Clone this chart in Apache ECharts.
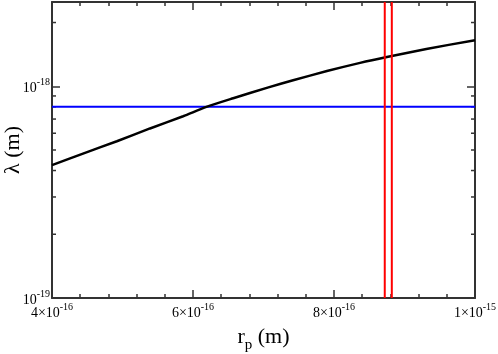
<!DOCTYPE html>
<html>
<head>
<meta charset="utf-8">
<script src="https://cdn.jsdelivr.net/npm/echarts@6/dist/echarts.min.js"></script>
<style>html,body{margin:0;padding:0;background:#fff}#c{width:498px;height:354px}</style>
</head>
<body>
<div id="c"></div>
<script>
// Black curve: lambda (m) vs r_p (m)
const curveR = [4.0e-16, 4.44e-16, 4.92e-16, 5.39e-16, 5.86e-16, 6.19e-16, 6.57e-16, 7.07e-16, 7.42e-16, 7.90e-16, 8.37e-16, 8.75e-16, 9.31e-16, 10.0e-16];
const curveLambda = [4.24e-19, 4.81e-19, 5.50e-19, 6.32e-19, 7.22e-19, 7.99e-19, 8.78e-19, 9.88e-19, 1.067e-18, 1.18e-18, 1.29e-18, 1.375e-18, 1.50e-18, 1.65e-18];
// Blue horizontal line
const blueLambda = 8.0e-19;
// Red vertical lines
const redR = [8.72e-16, 8.82e-16];
// Axis ranges and ticks
const xMin = 4e-16, xMax = 1e-15, xInterval = 2e-16;
const yMin = 1e-19, yMax = 2.5e-18;
const yMinorTicks = [2e-19, 3e-19, 4e-19, 5e-19, 6e-19, 7e-19, 8e-19, 9e-19, 2e-18];

const FONT = 'Liberation Serif';
const AX = '#333';

function xLabel(v) {
  const m = v / 1e-16;
  if (Math.abs(m - 10) < 1e-6) return '{b|1×10}{s|-15}';
  return '{b|' + Math.round(m) + '×10}{s|-16}';
}
function yLabel(v) {
  const l = Math.log10(v);
  const e = Math.round(l);
  if (Math.abs(l - e) > 1e-6) return '';
  return '{b|10}{s|' + e + '}';
}
const rich = {
  b: {fontFamily: FONT, fontSize: 14, color: '#000', verticalAlign: 'bottom'},
  s: {fontFamily: FONT, fontSize: 10, color: '#000', verticalAlign: 'bottom', padding: [0, 0, 8, 0]}
};

const chart = echarts.init(document.getElementById('c'));
chart.setOption({
  animation: false,
  grid: {left: 52, right: 23, top: 2, bottom: 56, outerBoundsMode: 'none', containLabel: false},
  xAxis: [{
    type: 'value', min: xMin, max: xMax, interval: xInterval,
    position: 'bottom',
    axisLine: {lineStyle: {color: AX, width: 2}},
    axisTick: {inside: true, length: 8, lineStyle: {color: AX, width: 1.5}},
    minorTick: {show: true, splitNumber: 5, length: 4, lineStyle: {color: AX, width: 1.5}},
    splitLine: {show: false},
    axisLabel: {formatter: xLabel, rich: rich, margin: 4},
    name: '{r|r}{p|p}{m| (m)}',
    nameLocation: 'middle', nameGap: 28, nameMoveOverlap: false,
    nameTextStyle: {rich: {
      r: {fontFamily: FONT, fontSize: 22, color: '#000', verticalAlign: 'top'},
      p: {fontFamily: FONT, fontSize: 15, color: '#000', verticalAlign: 'top', padding: [12, 0, 0, 0]},
      m: {fontFamily: FONT, fontSize: 22, color: '#000', verticalAlign: 'top'}
    }}
  }, {
    type: 'value', min: xMin, max: xMax, interval: xInterval,
    position: 'top',
    axisLine: {lineStyle: {color: AX, width: 2}},
    axisTick: {inside: true, length: 8, lineStyle: {color: AX, width: 1.5}},
    minorTick: {show: true, splitNumber: 5, length: 4, lineStyle: {color: AX, width: 1.5}},
    splitLine: {show: false},
    axisLabel: {show: false}
  }],
  yAxis: [{
    type: 'log', min: yMin, max: yMax, logBase: 10,
    position: 'left',
    axisLine: {show: true, lineStyle: {color: AX, width: 2}},
    axisTick: {show: true, inside: true, length: 8, lineStyle: {color: AX, width: 1.5}},
    splitLine: {show: false},
    axisLabel: {formatter: yLabel, rich: rich, margin: 2, showMaxLabel: false},
    name: 'λ (m)',
    nameLocation: 'middle', nameGap: 28, nameRotate: 90, nameMoveOverlap: false,
    nameTextStyle: {fontFamily: FONT, fontSize: 22, color: '#000'}
  }, {
    type: 'log', min: yMin, max: yMax, logBase: 10,
    position: 'right',
    axisLine: {show: true, lineStyle: {color: AX, width: 2}},
    axisTick: {show: true, inside: true, length: 8, lineStyle: {color: AX, width: 1.5}},
    splitLine: {show: false},
    axisLabel: {show: false}
  }],
  series: [
    {
      type: 'custom', xAxisIndex: 0, yAxisIndex: 0, silent: true, z: 1,
      data: yMinorTicks.map(v => [v]),
      renderItem: function (params, api) {
        const v = api.value(0);
        const pl = api.coord([xMin, v]);
        const pr = api.coord([xMax, v]);
        const st = {stroke: AX, lineWidth: 1.5};
        return {type: 'group', children: [
          {type: 'line', shape: {x1: pl[0], y1: pl[1], x2: pl[0] + 4, y2: pl[1]}, style: st},
          {type: 'line', shape: {x1: pr[0], y1: pr[1], x2: pr[0] - 4, y2: pr[1]}, style: st}
        ]};
      }
    },
    {
      type: 'line', showSymbol: false, smooth: 0.25, z: 3,
      data: curveR.map((r, i) => [r, curveLambda[i]]),
      lineStyle: {color: '#000', width: 2.5}
    },
    {
      type: 'line', showSymbol: false, z: 2,
      data: [[xMin, blueLambda], [xMax, blueLambda]],
      lineStyle: {color: '#0000ff', width: 2}
    },
    ...redR.map(r => ({
      type: 'line', showSymbol: false, z: 4,
      data: [[r, yMin], [r, yMax]],
      lineStyle: {color: '#ff0000', width: 2}
    }))
  ]
});
</script>
</body>
</html>
